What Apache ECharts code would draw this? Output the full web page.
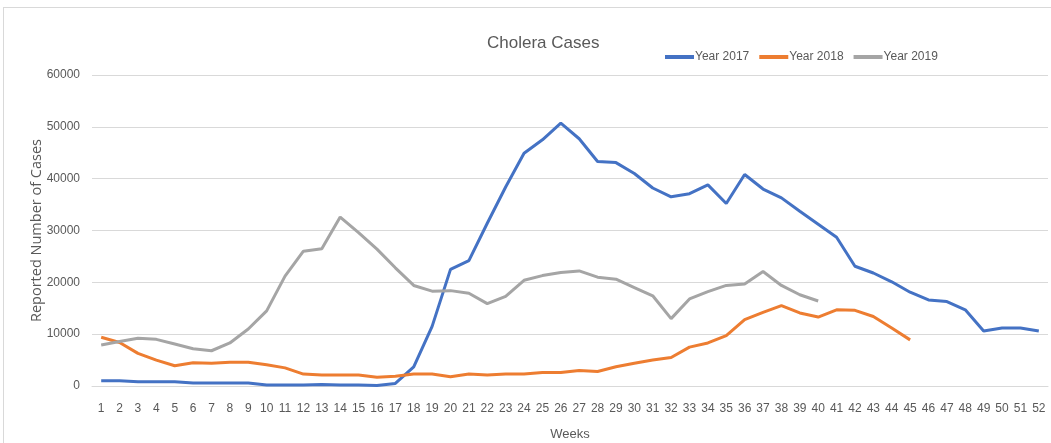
<!DOCTYPE html>
<html>
<head>
<meta charset="utf-8">
<script src="https://cdn.jsdelivr.net/npm/echarts@6/dist/echarts.min.js"></script>
<style>
  html, body { margin: 0; padding: 0; background: #fff; }
  #frame { position: absolute; left: 3px; top: 7px; width: 1060px; height: 450px; border: 1px solid #d9d9d9; }
  #chart { position: absolute; left: 0; top: 0; width: 1051px; height: 443px; }
</style>
</head>
<body>
<div id="frame"></div>
<div id="chart"></div>
<script>
// weeks 1..52
const weeks = [];
for (let i = 1; i <= 52; i++) weeks.push(String(i));

const y2017 = [1000, 1000, 800, 800, 800, 600, 600, 600, 600, 200,
  200, 200, 300, 200, 200, 100, 500, 3700, 11500, 22500,
  24200, 31400, 38400, 44900, 47500, 50700, 47700, 43300, 43100, 41000,
  38200, 36500, 37100, 38800, 35200, 40800, 38000, 36300, 33700, 31200,
  28700, 23100, 21800, 20100, 18100, 16600, 16300, 14700, 10600, 11200,
  11200, 10600];

const y2018 = [9400, 8400, 6300, 5000, 3900, 4500, 4400, 4600, 4600, 4100,
  3500, 2300, 2100, 2100, 2100, 1700, 1900, 2300, 2300, 1800,
  2300, 2100, 2300, 2300, 2600, 2600, 3000, 2800, 3700, 4400,
  5000, 5500, 7500, 8300, 9700, 12800, 14200, 15500, 14100, 13300,
  14700, 14600, 13400, 11200, 8900];

const y2019 = [7900, 8600, 9200, 9000, 8100, 7200, 6800, 8300, 11000, 14500,
  21200, 26000, 26500, 32600, 29600, 26400, 22800, 19400, 18300, 18400,
  17900, 15900, 17300, 20400, 21300, 21900, 22200, 21000, 20600, 19000,
  17400, 13000, 16800, 18200, 19400, 19700, 22100, 19400, 17600, 16400];

const yTicks = [0, 10000, 20000, 30000, 40000, 50000, 60000];

const txt = '#595959';
const font = '"Liberation Sans", sans-serif';

var myChart = echarts.init(document.getElementById('chart'));
let option = {
  animation: false,
  title: {
    text: 'Cholera Cases',
    left: 482,
    top: 30,
    textStyle: { fontFamily: font, fontSize: 17, fontWeight: 'normal', color: txt }
  },
  legend: {
    left: 660,
    top: 46,
    icon: 'rect',
    itemWidth: 29,
    itemHeight: 4,
    itemGap: 10,
    textStyle: { fontFamily: font, fontSize: 12, color: txt, padding: [0, 0, 0, -4] },
    data: ['Year 2017', 'Year 2018', 'Year 2019']
  },
  grid: { left: 92, right: 3, top: 75, bottom: 57, outerBoundsMode: 'none', containLabel: false },
  xAxis: {
    type: 'category',
    data: weeks,
    boundaryGap: true,
    name: 'Weeks',
    nameLocation: 'middle',
    nameGap: 42,
    nameTextStyle: { fontFamily: font, fontSize: 13, color: txt },
    axisLine: { lineStyle: { color: '#d9d9d9' } },
    axisTick: { show: false },
    axisLabel: { interval: 0, fontFamily: font, fontSize: 12, color: txt, margin: 17 }
  },
  yAxis: {
    type: 'value',
    min: yTicks[0],
    max: yTicks[yTicks.length - 1],
    interval: 10000,
    name: 'Reported Number of Cases',
    nameLocation: 'middle',
    nameGap: 48,
    nameMoveOverlap: false,
    nameTextStyle: { fontFamily: '"Open Sans", sans-serif', fontSize: 14.5, color: txt },
    axisLine: { show: false },
    axisTick: { show: false },
    axisLabel: {
      fontFamily: font, fontSize: 12, color: txt, margin: 12,
      formatter: function (v) { return String(v); }
    },
    splitLine: { lineStyle: { color: '#d9d9d9', width: 1 } }
  },
  series: [
    {
      name: 'Year 2017', type: 'line', data: y2017, symbol: 'none',
      lineStyle: { color: '#4472c4', width: 3 }, itemStyle: { color: '#4472c4' }
    },
    {
      name: 'Year 2018', type: 'line', data: y2018, symbol: 'none',
      lineStyle: { color: '#ed7d31', width: 3 }, itemStyle: { color: '#ed7d31' }
    },
    {
      name: 'Year 2019', type: 'line', data: y2019, symbol: 'none',
      lineStyle: { color: '#a5a5a5', width: 3 }, itemStyle: { color: '#a5a5a5' }
    }
  ]
};
myChart.setOption(option);
</script>
</body>
</html>
